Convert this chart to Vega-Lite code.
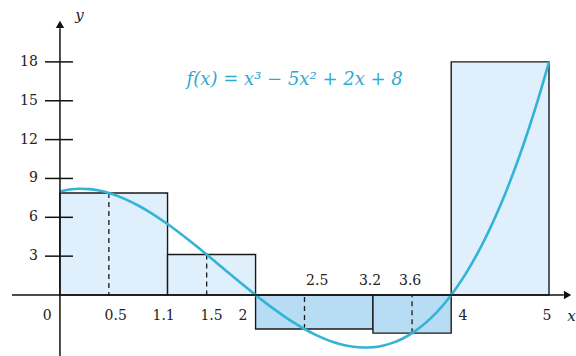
{
  "$schema": "https://vega.github.io/schema/vega-lite/v6.json",
  "width": 576,
  "height": 356,
  "autosize": "none",
  "padding": 0,
  "background": "white",
  "config": {"view": {"stroke": null}},
  "layer": [
    {
      "data": {"values": [
        {"a": 0, "b": 1.1, "h": 7.875, "sign": "pos"},
        {"a": 1.1, "b": 2, "h": 3.125, "sign": "pos"},
        {"a": 2, "b": 3.2, "h": -2.625, "sign": "neg"},
        {"a": 3.2, "b": 4, "h": -2.944, "sign": "neg"},
        {"a": 4, "b": 5, "h": 18, "sign": "pos"}
      ]},
      "mark": {"type": "rect", "stroke": "#1a1a1a", "strokeWidth": 1.4},
      "encoding": {
        "x": {"field": "a", "type": "quantitative", "scale": {"domain": [-0.613, 5.276], "nice": false, "zero": false}, "axis": null},
        "x2": {"field": "b"},
        "y": {"field": "h", "type": "quantitative", "scale": {"domain": [-4.71, 22.78], "nice": false, "zero": false}, "axis": null},
        "y2": {"datum": 0},
        "fill": {"field": "sign", "type": "nominal", "scale": {"domain": ["pos", "neg"], "range": ["#dfeffb", "#b7ddf5"]}, "legend": null}
      }
    },
    {
      "data": {"values": [
        {"xs": 0.5, "fx": 7.875},
        {"xs": 1.5, "fx": 3.125},
        {"xs": 2.5, "fx": -2.625},
        {"xs": 3.6, "fx": -2.944}
      ]},
      "mark": {"type": "rule", "stroke": "#1a1a1a", "strokeWidth": 1.3, "strokeDash": [5, 4]},
      "encoding": {
        "x": {"field": "xs", "type": "quantitative"},
        "y": {"field": "fx", "type": "quantitative"},
        "y2": {"datum": 0}
      }
    },
    {
      "data": {"values": [
        {"x": 0, "y": 8}, {"x": 0.1, "y": 8.151}, {"x": 0.2, "y": 8.208}, {"x": 0.3, "y": 8.177}, {"x": 0.4, "y": 8.064},
        {"x": 0.5, "y": 7.875}, {"x": 0.6, "y": 7.616}, {"x": 0.7, "y": 7.293}, {"x": 0.8, "y": 6.912}, {"x": 0.9, "y": 6.479},
        {"x": 1.0, "y": 6}, {"x": 1.1, "y": 5.481}, {"x": 1.2, "y": 4.928}, {"x": 1.3, "y": 4.347}, {"x": 1.4, "y": 3.744},
        {"x": 1.5, "y": 3.125}, {"x": 1.6, "y": 2.496}, {"x": 1.7, "y": 1.863}, {"x": 1.8, "y": 1.232}, {"x": 1.9, "y": 0.609},
        {"x": 2.0, "y": 0}, {"x": 2.1, "y": -0.589}, {"x": 2.2, "y": -1.152}, {"x": 2.3, "y": -1.683}, {"x": 2.4, "y": -2.176},
        {"x": 2.5, "y": -2.625}, {"x": 2.6, "y": -3.024}, {"x": 2.7, "y": -3.367}, {"x": 2.8, "y": -3.648}, {"x": 2.9, "y": -3.861},
        {"x": 3.0, "y": -4}, {"x": 3.1, "y": -4.059}, {"x": 3.2, "y": -4.032}, {"x": 3.3, "y": -3.913}, {"x": 3.4, "y": -3.696},
        {"x": 3.5, "y": -3.375}, {"x": 3.6, "y": -2.944}, {"x": 3.7, "y": -2.397}, {"x": 3.8, "y": -1.728}, {"x": 3.9, "y": -0.931},
        {"x": 4.0, "y": 0}, {"x": 4.1, "y": 1.071}, {"x": 4.2, "y": 2.288}, {"x": 4.3, "y": 3.657}, {"x": 4.4, "y": 5.184},
        {"x": 4.5, "y": 6.875}, {"x": 4.6, "y": 8.736}, {"x": 4.7, "y": 10.773}, {"x": 4.8, "y": 12.992}, {"x": 4.9, "y": 15.399},
        {"x": 5.0, "y": 18}
      ]},
      "mark": {"type": "line", "stroke": "#33b3d6", "strokeWidth": 2.6, "interpolate": "monotone"},
      "encoding": {
        "x": {"field": "x", "type": "quantitative"},
        "y": {"field": "y", "type": "quantitative"}
      }
    },
    {
      "data": {"values": [
        {"x1": -0.49, "x2": 5.15, "y1": 0, "y2": 0},
        {"x1": 0, "x2": 0, "y1": -4.71, "y2": 20.6},
        {"x1": -0.153, "x2": 0.133, "y1": 3, "y2": 3},
        {"x1": -0.153, "x2": 0.133, "y1": 6, "y2": 6},
        {"x1": -0.153, "x2": 0.133, "y1": 9, "y2": 9},
        {"x1": -0.153, "x2": 0.133, "y1": 12, "y2": 12},
        {"x1": -0.153, "x2": 0.133, "y1": 15, "y2": 15},
        {"x1": -0.153, "x2": 0.133, "y1": 18, "y2": 18}
      ]},
      "mark": {"type": "rule", "stroke": "#111111", "strokeWidth": 1.5},
      "encoding": {
        "x": {"field": "x1", "type": "quantitative"},
        "x2": {"field": "x2"},
        "y": {"field": "y1", "type": "quantitative"},
        "y2": {"field": "y2"}
      }
    },
    {
      "data": {"values": [
        {"x": 5.19, "y": 0, "shape": "triangle-right"},
        {"x": 0, "y": 20.9, "shape": "triangle-up"}
      ]},
      "mark": {"type": "point", "filled": true, "color": "#111111", "size": 70, "opacity": 1},
      "encoding": {
        "x": {"field": "x", "type": "quantitative"},
        "y": {"field": "y", "type": "quantitative"},
        "shape": {"field": "shape", "type": "nominal", "scale": null}
      }
    },
    {
      "data": {"values": [
        {"x": -0.225, "y": 3, "t": "3"},
        {"x": -0.225, "y": 6, "t": "6"},
        {"x": -0.225, "y": 9, "t": "9"},
        {"x": -0.225, "y": 12, "t": "12"},
        {"x": -0.225, "y": 15, "t": "15"},
        {"x": -0.225, "y": 18, "t": "18"}
      ]},
      "mark": {"type": "text", "align": "right", "baseline": "middle", "font": "DejaVu Serif", "fontSize": 14, "color": "#222222"},
      "encoding": {
        "x": {"field": "x", "type": "quantitative"},
        "y": {"field": "y", "type": "quantitative"},
        "text": {"field": "t"}
      }
    },
    {
      "data": {"values": [
        {"x": -0.13, "y": -1.6, "t": "0"},
        {"x": 0.57, "y": -1.6, "t": "0.5"},
        {"x": 1.06, "y": -1.6, "t": "1.1"},
        {"x": 1.55, "y": -1.6, "t": "1.5"},
        {"x": 1.87, "y": -1.6, "t": "2"},
        {"x": 2.63, "y": 1.1, "t": "2.5"},
        {"x": 3.17, "y": 1.1, "t": "3.2"},
        {"x": 3.58, "y": 1.1, "t": "3.6"},
        {"x": 4.12, "y": -1.6, "t": "4"},
        {"x": 4.98, "y": -1.6, "t": "5"}
      ]},
      "mark": {"type": "text", "align": "center", "baseline": "middle", "font": "DejaVu Serif", "fontSize": 14, "color": "#222222"},
      "encoding": {
        "x": {"field": "x", "type": "quantitative"},
        "y": {"field": "y", "type": "quantitative"},
        "text": {"field": "t"}
      }
    },
    {
      "data": {"values": [
        {"x": 0.2, "y": 21.6, "t": "y"},
        {"x": 5.23, "y": -1.6, "t": "x"}
      ]},
      "mark": {"type": "text", "align": "center", "baseline": "middle", "font": "DejaVu Serif", "fontStyle": "italic", "fontSize": 15, "color": "#222222"},
      "encoding": {
        "x": {"field": "x", "type": "quantitative"},
        "y": {"field": "y", "type": "quantitative"},
        "text": {"field": "t"}
      }
    },
    {
      "data": {"values": [
        {"x": 2.4, "y": 16.6, "t": "f(x) = x³ − 5x² + 2x + 8"}
      ]},
      "mark": {"type": "text", "align": "center", "baseline": "middle", "font": "DejaVu Serif", "fontStyle": "italic", "fontSize": 18, "color": "#2fa9d0"},
      "encoding": {
        "x": {"field": "x", "type": "quantitative"},
        "y": {"field": "y", "type": "quantitative"},
        "text": {"field": "t"}
      }
    }
  ]
}
